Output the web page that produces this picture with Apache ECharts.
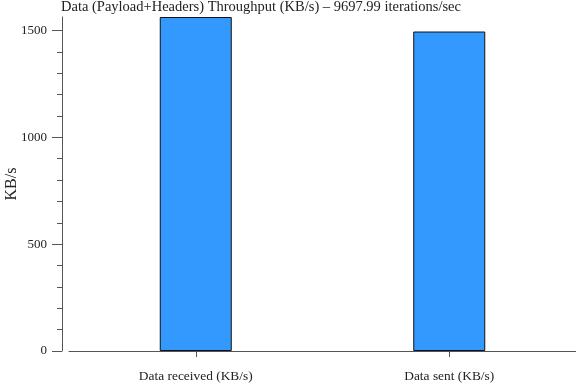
<!DOCTYPE html>
<html>
<head>
<meta charset="utf-8">
<script src="https://cdn.jsdelivr.net/npm/echarts@6/dist/echarts.min.js"></script>
<style>
html,body{margin:0;padding:0;background:#fff;}
#chart{width:576px;height:384px;}
</style>
</head>
<body>
<div id="chart"></div>
<script>
// Data
const categories = ['Data received (KB/s)', 'Data sent (KB/s)'];
const throughput = [1563, 1495];
const yMajorTicks = [0, 500, 1000, 1500];
const yMinorStep = 100;
const titleText = 'Data (Payload+Headers) Throughput (KB/s) \u2013 9697.99 iterations/sec';
const yName = 'KB/s';

const yMax = Math.max.apply(null, throughput);
const yMinorTicks = [];
for (let v = yMajorTicks[0]; v <= yMajorTicks[yMajorTicks.length - 1]; v += yMinorStep) {
  if (yMajorTicks.indexOf(v) < 0) yMinorTicks.push(v);
}

const FONT = 'Liberation Serif';
const AXIS = '#555';
const TEXT = '#222';

const chart = echarts.init(document.getElementById('chart'), null, {renderer: 'canvas'});
chart.setOption({
  animation: false,
  backgroundColor: '#fff',
  title: {
    text: titleText,
    left: 61,
    top: 0,
    padding: 0,
    textStyle: {fontFamily: FONT, fontSize: 14.5, fontWeight: 'normal', color: TEXT}
  },
  grid: {left: 69, right: 0, top: 17, bottom: 33, containLabel: false, outerBoundsMode: 'none'},
  xAxis: {
    type: 'category',
    data: categories,
    offset: 7,
    axisLine: {show: true, lineStyle: {color: AXIS, width: 1}},
    axisTick: {show: true, alignWithLabel: true, length: 6, lineStyle: {color: AXIS}},
    axisLabel: {fontFamily: FONT, fontSize: 13.4, color: TEXT, margin: 12},
    splitLine: {show: false}
  },
  yAxis: [
    {
      type: 'value',
      min: 0,
      max: yMax,
      offset: 7,
      name: yName,
      nameLocation: 'middle',
      nameGap: 42,
      nameMoveOverlap: false,
      nameTextStyle: {fontFamily: FONT, fontSize: 16, color: TEXT},
      axisLine: {show: true, lineStyle: {color: AXIS, width: 1}},
      axisTick: {show: true, length: 10, customValues: yMajorTicks, lineStyle: {color: AXIS}},
      axisLabel: {show: true, customValues: yMajorTicks, formatter: function (v) { return String(v); },
                  fontFamily: FONT, fontSize: 13, color: TEXT, margin: 15},
      splitLine: {show: false}
    },
    {
      type: 'value',
      min: 0,
      max: yMax,
      position: 'left',
      offset: 7,
      axisLine: {show: false},
      axisTick: {show: true, length: 5, customValues: yMinorTicks, lineStyle: {color: AXIS}},
      axisLabel: {show: false},
      splitLine: {show: false}
    }
  ],
  series: [{
    type: 'bar',
    data: throughput,
    barWidth: 72,
    itemStyle: {color: '#3399ff', borderColor: '#111', borderWidth: 1}
  }]
});
</script>
</body>
</html>
